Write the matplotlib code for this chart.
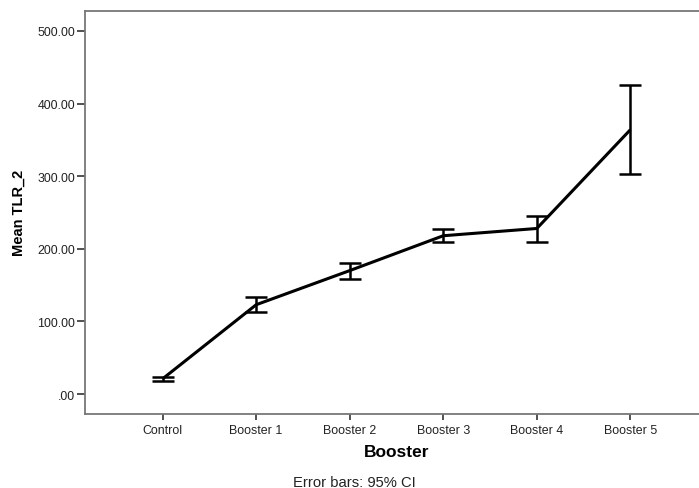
import matplotlib
matplotlib.use("Agg")
import matplotlib.pyplot as plt

categories = ["Control", "Booster 1", "Booster 2", "Booster 3", "Booster 4", "Booster 5"]
means = [21.0, 123.0, 170.0, 218.0, 228.0, 364.0]
ci_low = [18.3, 113.4, 158.4, 208.9, 209.8, 303.4]
ci_high = [23.8, 134.0, 180.9, 227.7, 245.6, 426.0]
yticks = [0, 100, 200, 300, 400, 500]
ytick_labels = [".00", "100.00", "200.00", "300.00", "400.00", "500.00"]

plt.rcParams['font.family'] = ['Liberation Sans', 'DejaVu Sans']

fig = plt.figure(figsize=(6.99, 4.89), dpi=100)
ax = fig.add_axes([85/699, 1 - 415/489, (708-85)/699, (415-12)/489])

x = list(range(len(categories)))
yerr = [[m - l for m, l in zip(means, ci_low)], [h - m for m, h in zip(means, ci_high)]]
ax.plot(x, means, color='black', lw=2.2, solid_capstyle='butt')
ax.errorbar(x, means, yerr=yerr, fmt='none', ecolor='black', elinewidth=1.8,
            capsize=7.9, capthick=1.8)

ax.set_xlim(-0.83, 5.83)
ax.set_ylim(-27.5, 527.5)
ax.set_xticks(x)
ax.set_xticklabels(categories, fontsize=8.9, color='#222222')
ax.set_yticks(yticks)
ax.set_yticklabels(ytick_labels, fontsize=8.9, color='#222222')
for s in ax.spines.values():
    s.set_color('#777777')
    s.set_linewidth(1.3)
ax.tick_params(axis='y', length=6, width=1.2, color='#333333', pad=1)
ax.tick_params(axis='x', length=4, width=1.2, color='#333333', pad=3)

ax.set_xlabel("Booster", fontsize=12.5, fontweight='bold')
ax.set_ylabel("Mean TLR_2", fontsize=10.5, fontweight='bold')
ax.xaxis.set_label_coords((397-85)/623, (415-452.7)/403)
ax.xaxis.label.set_va('center')
ax.yaxis.set_label_coords((19-85)/623, (415-213)/403)
ax.yaxis.label.set_va('center')

fig.text(354/699, 1 - 482.7/489, "Error bars: 95% CI", ha='center', va='center',
         fontsize=10.6, color='#222222')

fig.savefig("out.png", dpi=100)
